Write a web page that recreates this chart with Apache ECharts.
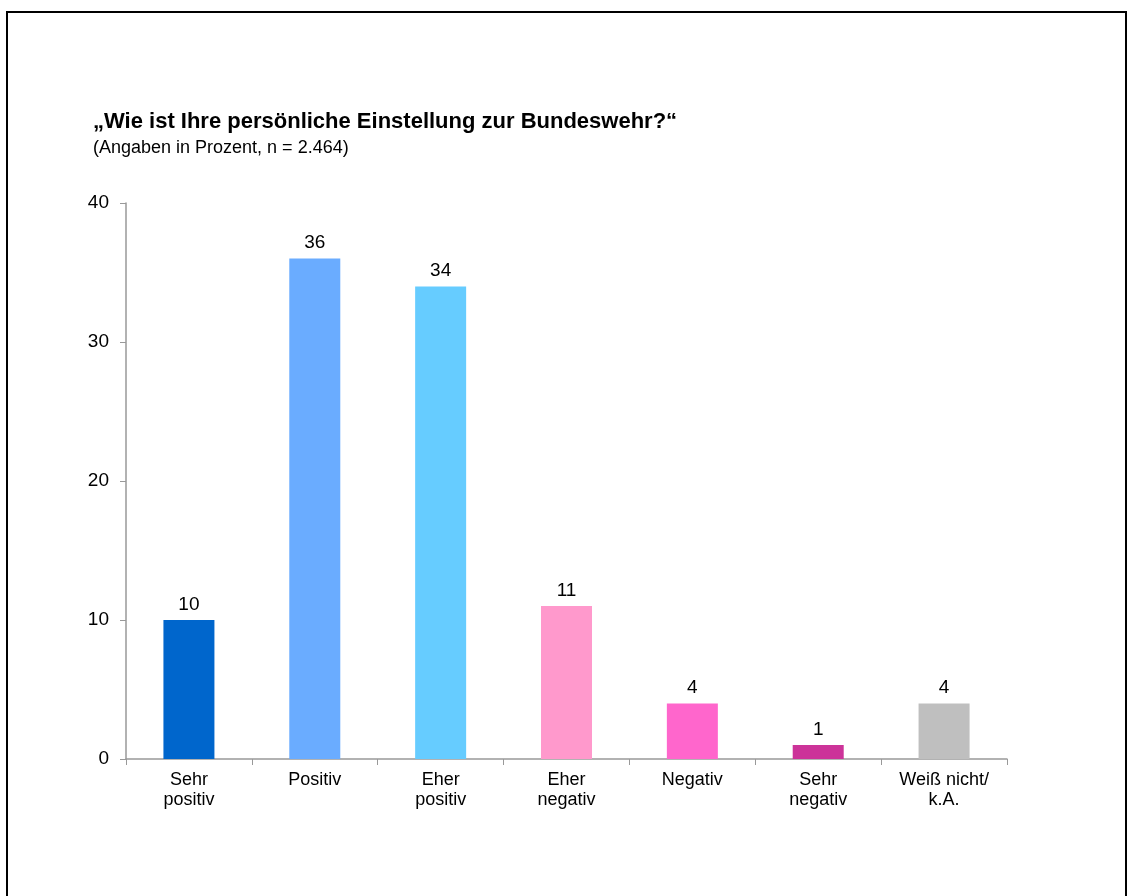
<!DOCTYPE html>
<html>
<head>
<meta charset="utf-8">
<script src="https://cdn.jsdelivr.net/npm/echarts@6/dist/echarts.min.js"></script>
<style>
html,body{margin:0;padding:0;background:#fff;}
#frame{position:absolute;left:6px;top:11px;width:1121px;height:1000px;border:2px solid #000;box-sizing:border-box;}
#chart{position:absolute;left:0;top:0;width:1130px;height:896px;}
</style>
</head>
<body>
<div id="frame"></div>
<div id="chart"></div>
<script>
const categories = ["Sehr\npositiv", "Positiv", "Eher\npositiv", "Eher\nnegativ", "Negativ", "Sehr\nnegativ", "Weiß nicht/\nk.A."];
const values = [10, 36, 34, 11, 4, 1, 4];
const colors = ["#0066CC", "#6AACFF", "#66CCFF", "#FF99CC", "#FF66CC", "#CC3399", "#BFBFBF"];
const yTicks = [0, 10, 20, 30, 40];
const titleText = "„Wie ist Ihre persönliche Einstellung zur Bundeswehr?“";
const subtitleText = "(Angaben in Prozent, n = 2.464)";

const chart = echarts.init(document.getElementById('chart'), null, {renderer: 'canvas'});
const font = 'Liberation Sans, Arial, sans-serif';
chart.setOption({
  backgroundColor: 'transparent',
  animation: false,
  textStyle: {fontFamily: font},
  title: {
    text: titleText,
    subtext: subtitleText,
    left: 93, top: 111,
    padding: 0,
    itemGap: 5,
    textStyle: {fontFamily: font, fontWeight: 'bold', fontSize: 22, lineHeight: 22, color: '#000'},
    subtextStyle: {fontFamily: font, fontSize: 18, lineHeight: 20, color: '#000'}
  },
  grid: {left: 126, right: 123, top: 203, bottom: 137, containLabel: false},
  xAxis: {
    type: 'category',
    data: categories,
    axisLine: {lineStyle: {color: '#999', width: 1.5}},
    axisTick: {show: true, length: 6, lineStyle: {color: '#999'}},
    axisLabel: {color: '#000', fontSize: 18, fontFamily: font, lineHeight: 20, margin: 11, interval: 0}
  },
  yAxis: {
    type: 'value',
    min: yTicks[0], max: yTicks[yTicks.length - 1], interval: 10,
    axisLine: {show: true, lineStyle: {color: '#999', width: 1.5}},
    axisTick: {show: true, length: 6, inside: false, lineStyle: {color: '#999'}},
    splitLine: {show: false},
    axisLabel: {color: '#000', fontSize: 19, fontFamily: font, margin: 17}
  },
  series: [{
    type: 'bar',
    data: values.map((v, i) => ({value: v, itemStyle: {color: colors[i]}})),
    barWidth: 51,
    label: {show: true, position: 'top', distance: 6, color: '#000', fontSize: 19, fontFamily: font}
  }]
});
</script>
</body>
</html>
